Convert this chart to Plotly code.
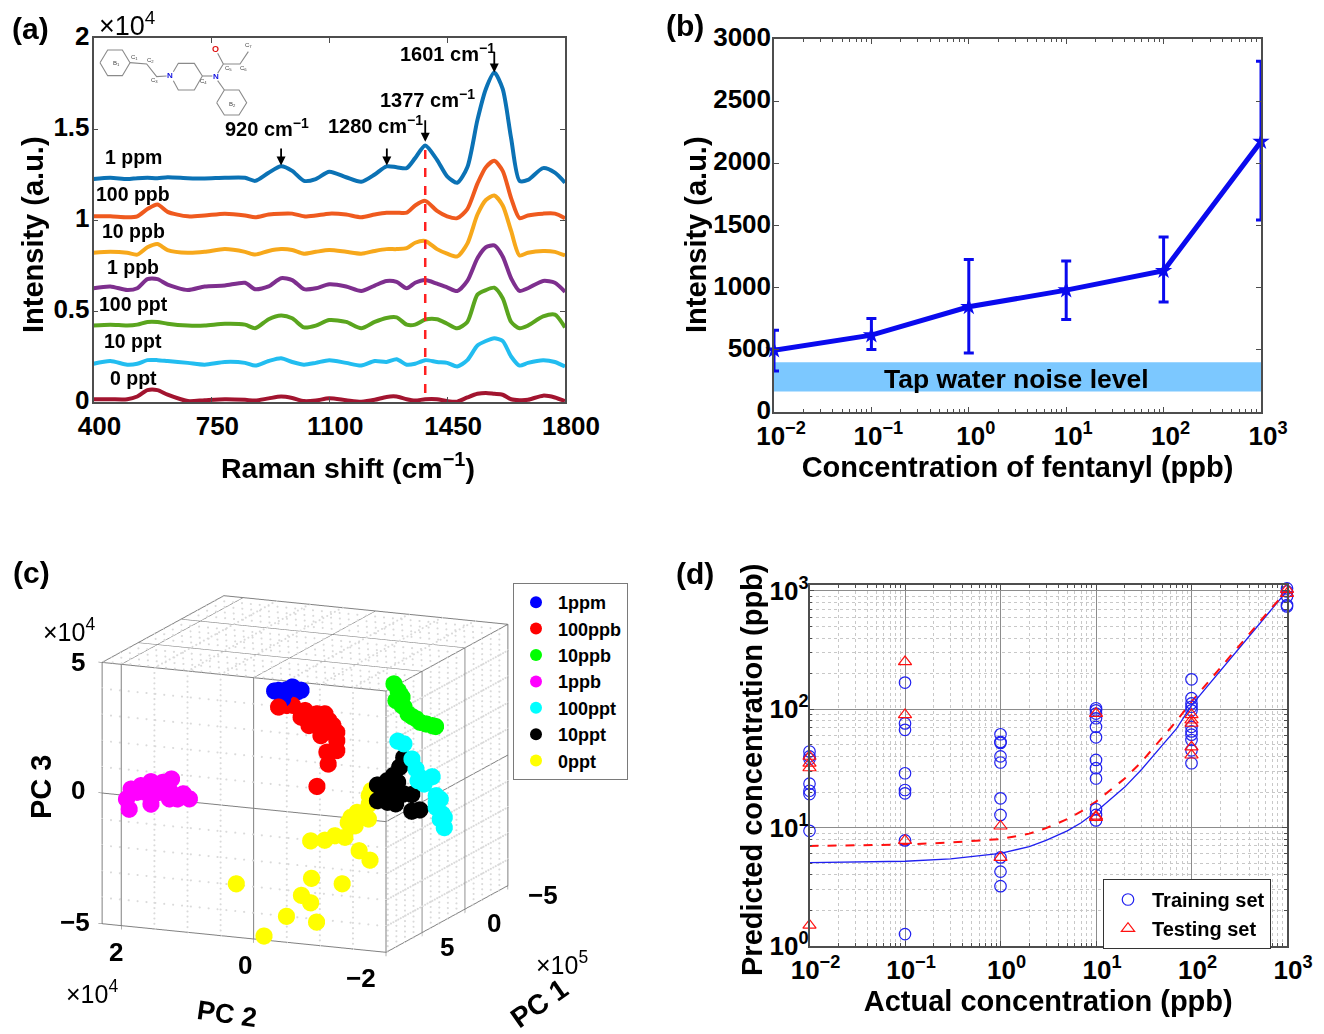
import plotly.graph_objects as go

W, H = 1324, 1034
def fx(p): return p / W
def fy(p): return 1 - p / H

FONT = "Liberation Sans"
BOLD = dict(family=FONT, weight="bold", color="black")
AXC = "#4d4d4d"

# ---------- panel (a) ----------
wave = [400,450,500,530,560,590,620,680,730,790,850,880,920,957,990,1025,1060,1100,1150,1195,1235,1270,1300,1330,1355,1385,1420,1450,1480,1510,1540,1565,1590,1615,1640,1665,1690,1735,1770,1800]
s_1ppm = [1.225,1.232,1.225,1.23,1.232,1.23,1.235,1.23,1.228,1.232,1.232,1.215,1.26,1.295,1.27,1.215,1.225,1.265,1.235,1.21,1.25,1.295,1.29,1.285,1.34,1.41,1.33,1.24,1.205,1.29,1.55,1.72,1.81,1.72,1.45,1.215,1.22,1.285,1.26,1.205]
s_100ppb = [1.02,1.02,1.015,1.02,1.06,1.085,1.045,1.02,1.025,1.035,1.025,1.015,1.03,1.035,1.035,1.02,1.025,1.035,1.03,1.015,1.03,1.04,1.04,1.04,1.08,1.105,1.05,1.02,1.01,1.06,1.2,1.29,1.325,1.27,1.12,1.01,1.025,1.035,1.035,1.01]
s_10ppb = [.82,.825,.82,.81,.85,.868,.835,.82,.825,.84,.825,.81,.83,.84,.835,.815,.825,.835,.825,.815,.83,.84,.84,.845,.875,.885,.84,.815,.8,.87,1.03,1.11,1.135,1.08,.94,.805,.82,.83,.825,.805]
s_1ppb = [.625,.635,.615,.625,.675,.675,.645,.615,.635,.64,.655,.62,.635,.68,.67,.62,.625,.647,.635,.61,.64,.665,.66,.625,.655,.67,.65,.63,.61,.665,.79,.85,.86,.8,.68,.61,.625,.665,.655,.605]
s_100ppt = [.42,.425,.42,.425,.44,.44,.43,.42,.42,.43,.425,.405,.455,.475,.46,.41,.42,.45,.44,.405,.44,.462,.465,.425,.425,.453,.455,.43,.405,.44,.59,.615,.628,.57,.44,.405,.42,.47,.48,.41]
s_10ppt = [.21,.225,.205,.21,.23,.23,.225,.215,.205,.22,.215,.2,.225,.24,.22,.205,.215,.23,.215,.2,.225,.22,.235,.205,.21,.23,.22,.215,.195,.23,.31,.335,.35,.335,.25,.2,.215,.23,.22,.195]
s_0ppt = [.015,.015,.015,.03,.065,.065,.04,.005,.01,.015,.012,.008,.02,.03,.022,.005,.008,.02,.01,.002,.012,.028,.03,.015,.008,.015,.015,.005,.002,.025,.045,.05,.045,.04,.015,.01,.012,.035,.025,.005]
spectra_names = ["1 ppm","100 ppb","10 ppb","1 ppb","100 ppt","10 ppt","0 ppt"]
spectra_vals = [s_1ppm,s_100ppb,s_10ppb,s_1ppb,s_100ppt,s_10ppt,s_0ppt]
spectra_cols = ["#0B72B5","#EF5A1E","#F7A81B","#7E2F8E","#5AA51E","#22BDF0","#A2142F"]
dash_wave = [1385, 1385]
dash_int = [0.05, 1.39]
peak_arrows = [(957,1.44,1.30),(1271,1.44,1.30),(1385,1.595,1.43),(1590,1.97,1.81)]

# ---------- panel (b) ----------
conc = [0.01,0.1,1,10,100,1000]
intensity = [497,618,846,980,1136,2175]
err_up = [658,752,1227,1214,1407,2822]
err_low = [330,502,475,744,884,1544]
noise_low, noise_high = 165, 400

# ---------- panel (c) ----------
pca_names = ["1ppm","100ppb","10ppb","1ppb","100ppt","10ppt","0ppt"]
pca_cols = ["#0000FF","#FF0000","#00FF00","#FF00FF","#00FFFF","#000000","#FFFF00"]
pc2_1ppm=[.56,.47,.50,.35,.22,.28,.44,.62]
pc3_1ppm=[3.09,2.98,2.78,3.27,3.18,3.10,3.14,3.05]
pc1_1ppm=[2]*8
pc2_100ppb=[.56,.44,.35,.16,-.02,-.14,.16,.10,-.11,-.26,-.32,-.08,-.32,-.32,-.17,-.19,-.02,.22,.01,-.20]
pc3_100ppb=[2.45,2.54,2.57,2.42,2.34,2.37,2.10,1.86,2.04,1.96,1.71,1.52,1.39,1.01,.91,.46,-.44,2.15,2.08,2.13]
pc1_100ppb=[2]*20
pc2_10ppb=[-.665,-.726,-.787,-.695,-.817,-.878,-1.0,-1.152,-1.293,-.756,-.787,-1.061,-1.244,-.939]
pc3_10ppb=[2.93,2.69,2.45,2.30,2.08,1.84,1.68,1.52,1.46,2.57,2.13,1.56,1.48,1.75]
pc1_10ppb=[-2]*14
pc2_1ppb=[2.04,2.08,2.01,1.86,1.71,1.53,1.40,1.43,1.59,1.71,1.80,1.43,1.31,1.22,1.13,1.92]
pc3_1ppb=[-.76,-.38,.02,.19,.38,.40,.56,.11,.0,-.48,-.05,-.21,-.18,.04,-.13,-.08]
pc1_1ppb=[8]*16
pc2_100ppt=[-.983,-1.074,-1.196,-1.257,-1.318,-1.379,-1.501,-1.562,-1.623,-1.562,-1.654,-1.623,-1.684,-1.684,-1.288,-1.562]
pc3_100ppt=[1.18,1.10,.55,.18,-.12,-.36,-.05,-.76,-.88,-1.21,-1.44,-1.64,-1.95,-1.56,-.26,-1.02]
pc1_100ppt=[0]*16
pc2_10ppt=[-1.46,-1.399,-1.307,-1.216,-1.368,-1.063,-1.277,-1.46,-1.582,-1.124,-1.216,-1.338,-1.582,-1.703,-1.063,-1.185,-1.307]
pc3_10ppt=[1.21,.83,.49,.27,.25,.06,-.10,-.18,-.17,-.46,-.56,-.59,-.81,-.73,-.54,-.31,-.41]
pc1_10ppt=[3]*17
pc2_0ppt=[-1.229,-1.198,-1.015,-1.186,-.881,-.985,-.832,-.68,-.527,-.314,-1.046,-1.21,-.79,-.326,-.174,-.314,.052,-.662,-.127,.81,-1.198,-.924]
pc3_0ppt=[.25,-.27,-.64,-.85,-1.06,-1.16,-1.64,-1.62,-1.83,-1.91,-2.10,-2.42,-3.43,-3.34,-4.03,-4.28,-4.89,-4.57,-4.88,-3.84,.05,-.85]
pc1_0ppt=[5]*17+[7,9]+[5]*3
pca_pc1=[pc1_1ppm,pc1_100ppb,pc1_10ppb,pc1_1ppb,pc1_100ppt,pc1_10ppt,pc1_0ppt]
pca_pc2=[pc2_1ppm,pc2_100ppb,pc2_10ppb,pc2_1ppb,pc2_100ppt,pc2_10ppt,pc2_0ppt]
pca_pc3=[pc3_1ppm,pc3_100ppb,pc3_10ppb,pc3_1ppb,pc3_100ppt,pc3_10ppt,pc3_0ppt]
pc1_range=[-5,9.2]; pc2_range=[-2,2.29]; pc3_range=[-5,5]
pc1_minor=[-4,-3,-2,-1,1,2,3,4,6,7,8,9]
pc2_minor=[-1.5,-1,-.5,.5,1,1.5]
pc3_minor=[-4,-3,-2,-1,1,2,3,4]

# ---------- panel (d) ----------
train_x=[.01]*7+[.1]*8+[1]*10+[10]*12+[100]*11+[1000]*6
train_y=[44,40,38,23.5,20.5,19.2,9.4, 168,76,67,28.8,20.8,19.5,7.8,1.26, 61.5,52,53,40,35.5,17.7,12.8,5.6,4.25,3.2,
         102,98,92,84,71,58,37.3,31.8,26,14.3,12.8,11.5, 179,124,112,105,98,71,65,61,55,45,35, 1138,1050,990,900,760,740]
test_x=[.01]*4+[.1]*3+[1]*2+[10]*3+[100]*5+[1000]*2
test_y=[40,35,32,1.5, 252,90,7.8, 10.3,5.6, 92,12.5,12.2, 90,81,76,48,41, 1030,950]
fit_x=[.01,.03,.1,.3,1,2,3,5,7,10,20,30,50,70,100,200,300,500,700,1000]
fit_train=[5.06,5.1,5.2,5.45,6.07,6.9,7.8,9.4,11,13.6,22,31,50,69,108,210,310,510,710,1000]
fit_test=[7.0,7.05,7.2,7.5,8,8.9,9.9,11.8,13.7,16.6,26,36,58,80,116,225,330,530,730,1000]
dec_vals=[.01,.1,1,10,100,1000]
dec_text=["10<sup>−2</sup>","10<sup>−1</sup>","10<sup>0</sup>","10<sup>1</sup>","10<sup>2</sup>","10<sup>3</sup>"]
y_dec_vals=[1,10,100,1000]
y_dec_text=["10<sup>0</sup>","10<sup>1</sup>","10<sup>2</sup>","10<sup>3</sup>"]
minor_mult=[2,3,4,5,6,7,8,9]

fig = go.Figure()

# (a)
for n,v,c in zip(spectra_names,spectra_vals,spectra_cols):
    fig.add_trace(go.Scatter(x=wave,y=v,mode="lines",name=n,line=dict(color=c,width=4,shape="spline",smoothing=0.7),showlegend=False,xaxis="x",yaxis="y"))
fig.add_trace(go.Scatter(x=dash_wave,y=dash_int,mode="lines",line=dict(color="#FF2020",width=2.5,dash="dash"),showlegend=False,xaxis="x",yaxis="y"))

# (b)
fig.add_trace(go.Scatter(x=conc,y=intensity,mode="lines+markers",showlegend=False,xaxis="x2",yaxis="y2",cliponaxis=False,
    line=dict(color="#0A0AEE",width=5),marker=dict(symbol="star",size=13,color="#0A0AEE"),
    error_y=dict(type="data",symmetric=False,array=[u-v for u,v in zip(err_up,intensity)],arrayminus=[v-l for v,l in zip(intensity,err_low)],color="#0A0AEE",thickness=3,width=5)))

# (c) dotted minor grid on the three far walls, drawn as fine dots
gx,gy,gz=[],[],[]
def seg(a,b,n=50):
    for i in range(n+1):
        f=i/n
        gx.append(a[0]+(b[0]-a[0])*f); gy.append(a[1]+(b[1]-a[1])*f); gz.append(a[2]+(b[2]-a[2])*f)
far1,far2,top=pc1_range[1],pc2_range[0],pc3_range[1]
for t in pc1_minor:
    seg((t,far2,pc3_range[0]),(t,far2,top)); seg((t,pc2_range[0],top),(t,pc2_range[1],top),32)
for t in pc2_minor:
    seg((far1,t,pc3_range[0]),(far1,t,top)); seg((pc1_range[0],t,top),(pc1_range[1],t,top),32)
for t in pc3_minor:
    seg((pc1_range[0],far2,t),(pc1_range[1],far2,t)); seg((far1,pc2_range[0],t),(far1,pc2_range[1],t),32)
fig.add_trace(go.Scatter3d(x=gx,y=gy,z=gz,mode="markers",marker=dict(color="#dadada",size=1.2,line=dict(width=0)),showlegend=False,hoverinfo="skip",scene="scene"))
for n,c,a,b,d in zip(pca_names,pca_cols,pca_pc1,pca_pc2,pca_pc3):
    fig.add_trace(go.Scatter3d(x=a,y=b,z=d,mode="markers",name=n,marker=dict(color=c,size=10,opacity=1,line=dict(width=0)),scene="scene",legend="legend"))

# (d)
fig.add_trace(go.Scatter(x=fit_x,y=fit_train,mode="lines",line=dict(color="#2020F0",width=1.3),showlegend=False,xaxis="x3",yaxis="y3"))
fig.add_trace(go.Scatter(x=fit_x,y=fit_test,mode="lines",line=dict(color="#FF1010",width=2,dash="dash"),showlegend=False,xaxis="x3",yaxis="y3"))
fig.add_trace(go.Scatter(x=train_x,y=train_y,mode="markers",name="Training set",legend="legend2",xaxis="x3",yaxis="y3",cliponaxis=False,
    marker=dict(symbol="circle-open",size=11.5,color="#2020F0",line=dict(width=1.2,color="#2020F0"))))
fig.add_trace(go.Scatter(x=test_x,y=test_y,mode="markers",name="Testing set",legend="legend2",xaxis="x3",yaxis="y3",cliponaxis=False,
    marker=dict(symbol="triangle-up-open",size=11.5,color="#FF1010",line=dict(width=1.2,color="#FF1010"))))

def box(x0,x1,y0,y1):
    return [fx(x0),fx(x1)],[fy(y1),fy(y0)]
ax_dom,ay_dom=box(93.5,565,38,402)
bx_dom,by_dom=box(774,1261,39,412)
dx_dom,dy_dom=box(809.5,1287,585,946)
AX=dict(showline=True,linecolor=AXC,linewidth=1.5,mirror="ticks",ticks="inside",ticklen=5,tickcolor=AXC,showgrid=False,zeroline=False,
        tickfont=dict(size=26,**BOLD))
def minor_vals(lo,hi):
    out=[]
    for d in [10.0**e for e in range(lo,hi)]:
        out+= [d*m for m in minor_mult]
    return out

layout=dict(
    width=W,height=H,margin=dict(l=0,r=0,t=0,b=0,autoexpand=False),paper_bgcolor="white",plot_bgcolor="white",
    font=dict(family=FONT,color="black"),
    xaxis=dict(domain=ax_dom,range=[400,1800],tickvals=[400,750,1100,1450,1800],anchor="y",ticklabelshift=6,**AX),
    yaxis=dict(domain=ay_dom,range=[0,2],tickvals=[0,.5,1,1.5,2],ticktext=["0","0.5","1","1.5","2"],anchor="x",ticklabelstandoff=-3,ticklabelshift=-2,**AX),
    xaxis2=dict(domain=bx_dom,type="log",range=[-2,3],tickvals=dec_vals,ticktext=dec_text,anchor="y2",ticklabelshift=7,
        minor=dict(ticks="inside",ticklen=3,tickcolor=AXC,tickvals=minor_vals(-2,3)),
        title=dict(text="Concentration of fentanyl (ppb)",font=dict(size=29,**BOLD),standoff=2),**AX),
    yaxis2=dict(domain=by_dom,range=[0,3000],tickvals=[0,500,1000,1500,2000,2500,3000],anchor="x2",ticklabelstandoff=-4,ticklabelshift=-2,**AX),
    xaxis3=dict(domain=dx_dom,type="log",range=[-2,3],tickvals=dec_vals,ticktext=dec_text,anchor="y3",ticklabelshift=6,
        minor=dict(ticks="inside",ticklen=3,tickcolor=AXC,tickvals=minor_vals(-2,3),showgrid=True,gridcolor="#c8c8c8",griddash="dot",gridwidth=1),
        title=dict(text="Actual concentration (ppb)",font=dict(size=29,**BOLD),standoff=2),**{**AX,"showgrid":True,"gridcolor":"#8c8c8c","gridwidth":1}),
    yaxis3=dict(domain=dy_dom,type="log",range=[0,3.05],tickvals=y_dec_vals,ticktext=y_dec_text,anchor="x3",ticklabelstandoff=-6,
        minor=dict(ticks="inside",ticklen=3,tickcolor=AXC,tickvals=minor_vals(0,3),showgrid=True,gridcolor="#c8c8c8",griddash="dot",gridwidth=1),
        **{**AX,"showgrid":True,"gridcolor":"#8c8c8c","gridwidth":1}),
    legend=dict(x=fx(513),y=fy(583),xanchor="left",yanchor="top",bordercolor="#7a7a7a",borderwidth=1,bgcolor="white",
        font=dict(size=18,**BOLD),itemsizing="constant",itemwidth=34,tracegroupgap=0),
    legend2=dict(x=fx(1103),y=fy(879),xanchor="left",yanchor="top",bordercolor="#333333",borderwidth=1,bgcolor="white",
        font=dict(size=20,**BOLD),itemwidth=38),
)
SC_AX=dict(showbackground=False,showticklabels=False,title=dict(text=""),showgrid=True,gridcolor="#808080",gridwidth=2,
           zeroline=False,showline=True,linecolor="#808080",linewidth=2,mirror=True,ticks="outside",ticklen=4,tickcolor="#666666",showspikes=False)
layout["scene"]=dict(
    domain=dict(x=[fx(44.5),fx(564.5)],y=[fy(973.5),fy(573.5)]),
    xaxis=dict(range=pc1_range,tickvals=[-5,0,5],**SC_AX),
    yaxis=dict(range=pc2_range,tickvals=[-2,0,2],**SC_AX),
    zaxis=dict(range=pc3_range,tickvals=[-5,0,5],**SC_AX),
    aspectmode="manual",aspectratio=dict(x=1.545,y=1.545,z=1.344),
    camera=dict(projection=dict(type="orthographic"),up=dict(x=0,y=0,z=1),center=dict(x=0,y=0,z=0),
                eye=dict(x=-1.156,y=0.496,z=-0.304)),
)

ann=[]
def T(x,y,text,size=20,bold=True,angle=0,color="black"):
    f=dict(size=size,family=FONT,color=color)
    if bold: f["weight"]="bold"
    ann.append(dict(x=fx(x),y=fy(y),xref="paper",yref="paper",text=text,showarrow=False,font=f,textangle=angle,xanchor="center",yanchor="middle"))
for t,p in [("(a)",(30,28)),("(b)",(685,25)),("(c)",(31,572)),("(d)",(695,573))]:
    T(p[0],p[1],t,size=30)
T(127,24,"×10<sup>4</sup>",size=27,bold=False)
T(33,235,"Intensity (a.u.)",size=29,angle=-90)
T(348,466,"Raman shift (cm<sup>−1</sup>)",size=28.5)
T(696,234,"Intensity (a.u.)",size=29,angle=-90)
T(752,770,"Predicted concentration (ppb)",size=29,angle=-90)
for n,y in zip(spectra_names,[157,194,231,267,304,341,378]):
    T(133,y,n,size=19.5)
for t,x,y in [("920 cm<sup>−1</sup>",267,127),("1280 cm<sup>−1</sup>",375,125),("1377 cm<sup>−1</sup>",428,98),("1601 cm<sup>−1</sup>",447,52)]:
    T(x,y,t,size=20)
for xv,y0,y1 in peak_arrows:
    ann.append(dict(x=xv,y=y1,ax=xv,ay=y0,xref="x",yref="y",axref="x",ayref="y",text=" ",showarrow=True,arrowhead=2,arrowsize=1,arrowwidth=1.8,arrowcolor="black"))
T(1016,379,"Tap water noise level",size=26.5)
# (c) labels
T(69,630,"×10<sup>4</sup>",size=25,bold=False)
T(78,662,"5",size=26); T(78,790,"0",size=26); T(75,922,"−5",size=26)
T(41,787,"PC 3",size=29,angle=-90)
T(116,952,"2",size=26); T(245,965,"0",size=26); T(361,978,"−2",size=26)
T(92,992,"×10<sup>4</sup>",size=25,bold=False)
T(227,1014,"PC 2",size=27,angle=8)
T(543,895,"−5",size=26); T(494,923,"0",size=26); T(447,947,"5",size=26)
T(562,963,"×10<sup>5</sup>",size=25,bold=False)
T(539,1003,"PC 1",size=28,angle=-35)
# molecule labels
MX=lambda z:95+z/3
MY=lambda z:40+z/3
for t,a,b in [("C<sub>1</sub>",118,52),("C<sub>2</sub>",165,62),("C<sub>3</sub>",178,122),("C<sub>4</sub>",325,125),("C<sub>5</sub>",400,87),("C<sub>6</sub>",445,87),("C<sub>7</sub>",462,18),("B<sub>1</sub>",65,70),("B<sub>2</sub>",412,192)]:
    T(MX(a),MY(b),t,size=6,bold=False,color="#444444")
T(MX(225),MY(108),"N",size=8,color="#1010E0")
T(MX(362),MY(110),"N",size=8,color="#1010E0")
T(MX(362),MY(28),"O",size=9,color="#E01010")
layout["annotations"]=ann

# molecule bonds and panel (b) noise band
shapes=[dict(type="rect",xref="x2",yref="y2",x0=0.01,x1=1000,y0=noise_low,y1=noise_high,fillcolor="#7CC8FF",line=dict(width=0),layer="between")]
bonds=[[(15,68),(38,30),(82,30),(105,68),(82,107),(38,107),(15,68)],[(105,68),(155,72),(185,110),(215,108)],
       [(235,95),(250,70),(298,70),(322,108),(298,150),(250,150),(235,122)],[(322,108),(352,108)],
       [(368,100),(385,72),(368,40)],[(385,72),(435,72),(460,35)],[(368,122),(388,150)],
       [(365,188),(388,150),(432,150),(455,188),(432,225),(388,225),(365,188)]]
for b in bonds:
    path="M "+" L ".join(f"{fx(MX(p[0])):.5f} {fy(MY(p[1])):.5f}" for p in b)
    shapes.append(dict(type="path",xref="paper",yref="paper",path=path,line=dict(color="#8a8a8a",width=1.1)))
layout["shapes"]=shapes
fig.update_layout(**layout)
fig.write_html("out.html",post_script="document.body.style.margin='0';",config=dict(displayModeBar=False))
